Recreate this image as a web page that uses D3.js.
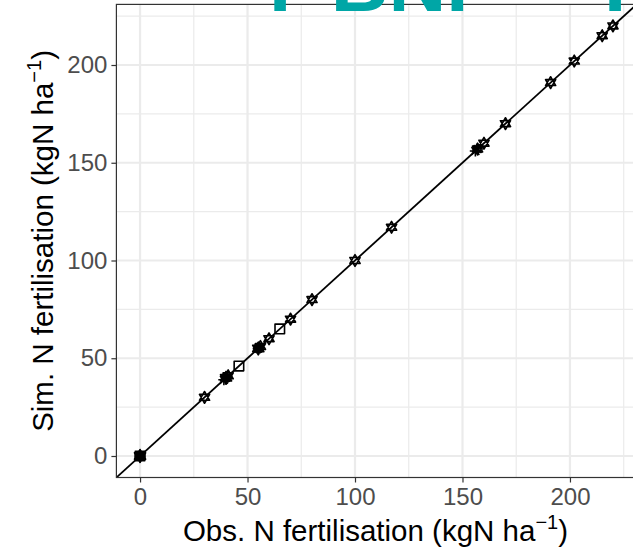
<!DOCTYPE html>
<html>
<head>
<meta charset="utf-8">
<script src="https://cdn.jsdelivr.net/npm/d3@7"></script>
<style>
  html, body { margin: 0; padding: 0; background: #fff; }
  svg { display: block; }
  text { font-family: "Liberation Sans", Arial, Helvetica, sans-serif; }
</style>
</head>
<body>
<svg id="chart" width="633" height="552"></svg>
<script>
// Observed vs simulated N fertilisation (kgN/ha), one entry per simulated unit
const obs   = [0, 0, 0, 0, 30, 39, 40, 41, 40, 46, 55, 55, 56, 60, 65, 70, 80, 100, 117, 156, 157, 157, 160, 170, 191, 202, 215, 220];
const sim   = [0, 0, 0, 0, 30, 39, 40, 41, 40, 46, 55, 55, 56, 60, 65, 70, 80, 100, 117, 156, 157, 157, 160, 170, 191, 202, 215, 220];
const shape = ["solid", "asterisk", "hexagram", "square", "hexagram", "asterisk", "solid", "hexagram", "asterisk", "square",
               "solid", "asterisk", "hexagram", "hexagram", "square", "hexagram", "hexagram", "hexagram", "hexagram",
               "asterisk", "hexagram", "asterisk", "hexagram", "hexagram", "hexagram", "hexagram", "hexagram", "hexagram"];

const axisDomain = [-11, 231];
const majorTicks = [0, 50, 100, 150, 200];
const minorTicks = [25, 75, 125, 175, 225];

const xTitle = "Obs. N fertilisation (kgN ha";
const yTitle = "Sim. N fertilisation (kgN ha";
const headline = [{t: "I", x: 280}, {t: "BNF", x: 413}, {t: "I", x: 615}];

const svg = d3.select("#chart");
const panel = {left: 116.4, top: 4.4, right: 636.6, bottom: 477.5};

const x = d3.scaleLinear().domain(axisDomain).range([panel.left, panel.right]);
const y = d3.scaleLinear().domain(axisDomain).range([panel.bottom, panel.top]);

// panel background + grid
const g = svg.append("g");
g.append("rect").attr("x", panel.left).attr("y", panel.top)
  .attr("width", panel.right - panel.left).attr("height", panel.bottom - panel.top)
  .attr("fill", "#fff");

g.selectAll(".vminor").data(minorTicks).join("line")
  .attr("x1", d => x(d)).attr("x2", d => x(d))
  .attr("y1", panel.top).attr("y2", panel.bottom)
  .attr("stroke", "#EBEBEB").attr("stroke-width", 1.2);
g.selectAll(".hminor").data(minorTicks).join("line")
  .attr("y1", d => y(d)).attr("y2", d => y(d))
  .attr("x1", panel.left).attr("x2", panel.right)
  .attr("stroke", "#EBEBEB").attr("stroke-width", 1.2);
g.selectAll(".vmajor").data(majorTicks).join("line")
  .attr("x1", d => x(d)).attr("x2", d => x(d))
  .attr("y1", panel.top).attr("y2", panel.bottom)
  .attr("stroke", "#EBEBEB").attr("stroke-width", 2.2);
g.selectAll(".hmajor").data(majorTicks).join("line")
  .attr("y1", d => y(d)).attr("y2", d => y(d))
  .attr("x1", panel.left).attr("x2", panel.right)
  .attr("stroke", "#EBEBEB").attr("stroke-width", 2.2);

// 1:1 line
svg.append("clipPath").attr("id", "pclip").append("rect")
  .attr("x", panel.left).attr("y", panel.top)
  .attr("width", panel.right - panel.left).attr("height", panel.bottom - panel.top);
svg.append("line").attr("clip-path", "url(#pclip)")
  .attr("x1", x(axisDomain[0])).attr("y1", y(axisDomain[0]))
  .attr("x2", x(axisDomain[1])).attr("y2", y(axisDomain[1]))
  .attr("stroke", "#000").attr("stroke-width", 1.8);

// point shapes
const R = 5.6;
function hexagram(p, r) {
  for (const rot of [-Math.PI / 2, Math.PI / 2]) {
    for (let i = 0; i < 3; i++) {
      const a = rot + i * 2 * Math.PI / 3;
      const px = r * Math.cos(a), py = r * Math.sin(a);
      if (i === 0) p.moveTo(px, py); else p.lineTo(px, py);
    }
    p.closePath();
  }
}
function shapePath(kind) {
  const p = d3.path();
  if (kind === "hexagram") {
    hexagram(p, R * 1.05);
  } else if (kind === "solid") {
    hexagram(p, R * 1.15);
    p.moveTo(R * 0.8, 0);
    p.arc(0, 0, R * 0.8, 0, 2 * Math.PI);
  } else if (kind === "asterisk") {
    for (let i = 0; i < 4; i++) {
      const a = i * Math.PI / 4;
      p.moveTo(-R * Math.cos(a), -R * Math.sin(a));
      p.lineTo(R * Math.cos(a), R * Math.sin(a));
    }
  } else if (kind === "square") {
    p.rect(-R * 0.85, -R * 0.85, R * 1.7, R * 1.7);
  }
  return p.toString();
}

const pts = obs.map((o, i) => ({o, s: sim[i], k: shape[i]}));
svg.append("g").selectAll("path").data(pts).join("path")
  .attr("transform", d => `translate(${x(d.o)},${y(d.s)})`)
  .attr("d", d => shapePath(d.k))
  .attr("fill", d => d.k === "solid" ? "#000" : "none")
  .attr("fill-rule", "nonzero")
  .attr("stroke", "#000")
  .attr("stroke-width", 1.6)
  .attr("stroke-linejoin", "round");

// panel border
svg.append("rect").attr("x", panel.left).attr("y", panel.top)
  .attr("width", panel.right - panel.left).attr("height", panel.bottom - panel.top)
  .attr("fill", "none").attr("stroke", "#333333").attr("stroke-width", 1.2);

// axes
const xAxis = svg.append("g").attr("transform", `translate(0,${panel.bottom})`)
  .call(d3.axisBottom(x).tickValues(majorTicks).tickSize(5).tickPadding(4).tickFormat(d3.format("d")));
const yAxis = svg.append("g").attr("transform", `translate(${panel.left},0)`)
  .call(d3.axisLeft(y).tickValues(majorTicks).tickSize(5).tickPadding(4).tickFormat(d3.format("d")));
for (const ax of [xAxis, yAxis]) {
  ax.select(".domain").remove();
  ax.selectAll(".tick line").attr("stroke", "#333333").attr("stroke-width", 1.2);
  ax.selectAll(".tick text").attr("fill", "#4D4D4D").style("font-size", "24px")
    .style("font-family", "'Liberation Sans', Arial, sans-serif");
}
xAxis.selectAll(".tick text").attr("dy", "0.75em");

// axis titles
function title(sel, txt) {
  sel.append("tspan").text(txt);
  sel.append("tspan").text("\u22121").attr("dy", -12).style("font-size", "20px");
  sel.append("tspan").text(")").attr("dy", 12);
}
svg.append("text").attr("x", (panel.left + panel.right) / 2 - 1).attr("y", 541)
  .attr("text-anchor", "middle").style("font-size", "29.5px").attr("fill", "#000")
  .call(title, xTitle);
svg.append("text").attr("transform", `translate(53,${(panel.top + panel.bottom) / 2}) rotate(-90)`)
  .attr("text-anchor", "middle").style("font-size", "29.5px").attr("fill", "#000")
  .call(title, yTitle);

// headline (runs off the top edge)
svg.append("g").selectAll("text").data(headline).join("text")
  .attr("x", d => d.x).attr("y", 11).attr("text-anchor", "middle")
  .style("font-size", "80px").style("font-weight", "bold").attr("fill", "#00A6A6")
  .text(d => d.t);
</script>
</body>
</html>
